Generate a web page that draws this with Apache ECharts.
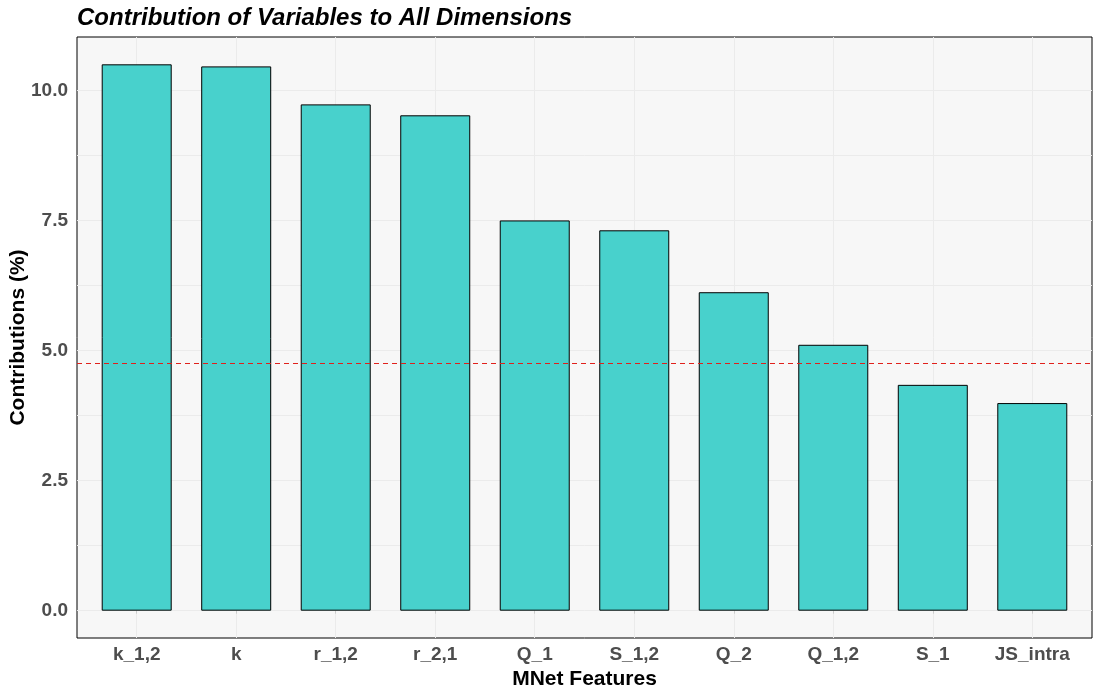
<!DOCTYPE html>
<html>
<head>
<meta charset="utf-8">
<script src="https://cdn.jsdelivr.net/npm/echarts@6/dist/echarts.min.js"></script>
<style>
    html, body { margin: 0; padding: 0; background: #ffffff; }
    #chart { width: 1100px; height: 696px; }
</style>
</head>
<body>
<div id="chart"></div>
<script>
// data
const features = ["k_1,2", "k", "r_1,2", "r_2,1", "Q_1", "S_1,2", "Q_2", "Q_1,2", "S_1", "JS_intra"];
const contributions = [10.50, 10.46, 9.73, 9.52, 7.50, 7.31, 6.12, 5.11, 4.34, 3.99];
const expectedLine = [4.76];
const yTicks = [0, 2.5, 5, 7.5, 10];
const yGrid = [0, 1.25, 2.5, 3.75, 5, 6.25, 7.5, 8.75, 10];

const font = "'Liberation Sans', Arial, sans-serif";

// bars sit on positions 1..n of a value axis, like ggplot's discrete scale
const xPos = features.map((f, i) => i + 1);
const barData = contributions.map((v, i) => [xPos[i], v]);

const chart = echarts.init(document.getElementById("chart"));

chart.setOption({
    animation: false,
    backgroundColor: "#ffffff",
    title: {
        text: "Contribution of Variables to All Dimensions",
        left: 72,
        top: 1,
        textStyle: {
            fontFamily: font,
            fontSize: 24,
            fontWeight: "bold",
            fontStyle: "italic",
            color: "#000000",
        },
    },
    grid: {
        left: 77,
        right: 8,
        top: 37,
        bottom: 58,
        outerBoundsMode: "none",
        containLabel: false,
        show: true,
        backgroundColor: "#f7f7f7",
        borderColor: "#000000",
        borderWidth: 1,
    },
    xAxis: {
        type: "value",
        min: 0.4,
        max: features.length + 0.6,
        name: "MNet Features",
        nameLocation: "middle",
        nameGap: 31,
        nameMoveOverlap: false,
        nameTextStyle: {
            fontFamily: font,
            fontSize: 21,
            fontWeight: "bold",
            color: "#000000",
        },
        axisLine: { show: false },
        axisTick: {
            show: true,
            length: 3,
            customValues: xPos,
            lineStyle: { color: "#cccccc" },
        },
        axisLabel: {
            margin: 7,
            customValues: xPos,
            fontFamily: font,
            fontSize: 19,
            fontWeight: "bold",
            color: "#4d4d4d",
            formatter: (v) => features[Math.round(v) - 1] || "",
        },
        splitLine: {
            show: true,
            lineStyle: { color: "#ebebeb", width: 1 },
        },
    },
    yAxis: {
        type: "value",
        min: -0.525,
        max: 11.025,
        name: "Contributions (%)",
        nameLocation: "middle",
        nameGap: 48,
        nameMoveOverlap: false,
        nameTextStyle: {
            fontFamily: font,
            fontSize: 21,
            fontWeight: "bold",
            color: "#000000",
        },
        axisLine: { show: false },
        axisTick: {
            show: false,
            customValues: yGrid,
        },
        axisLabel: {
            margin: 9,
            customValues: yTicks,
            fontFamily: font,
            fontSize: 19,
            fontWeight: "bold",
            color: "#4d4d4d",
            formatter: (v) => v.toFixed(1),
        },
        splitLine: {
            show: true,
            lineStyle: { color: "#ebebeb", width: 1 },
        },
    },
    series: [
        {
            type: "bar",
            data: barData,
            barWidth: 70,
            itemStyle: {
                color: "#48d1cc",
                borderColor: "#000000",
                borderWidth: 1,
            },
            markLine: {
                silent: true,
                symbol: "none",
                label: { show: false },
                lineStyle: { color: "#e0201b", type: [5, 4], width: 1 },
                data: expectedLine.map((v) => ({ yAxis: v })),
            },
        },
    ],
});
</script>
</body>
</html>
